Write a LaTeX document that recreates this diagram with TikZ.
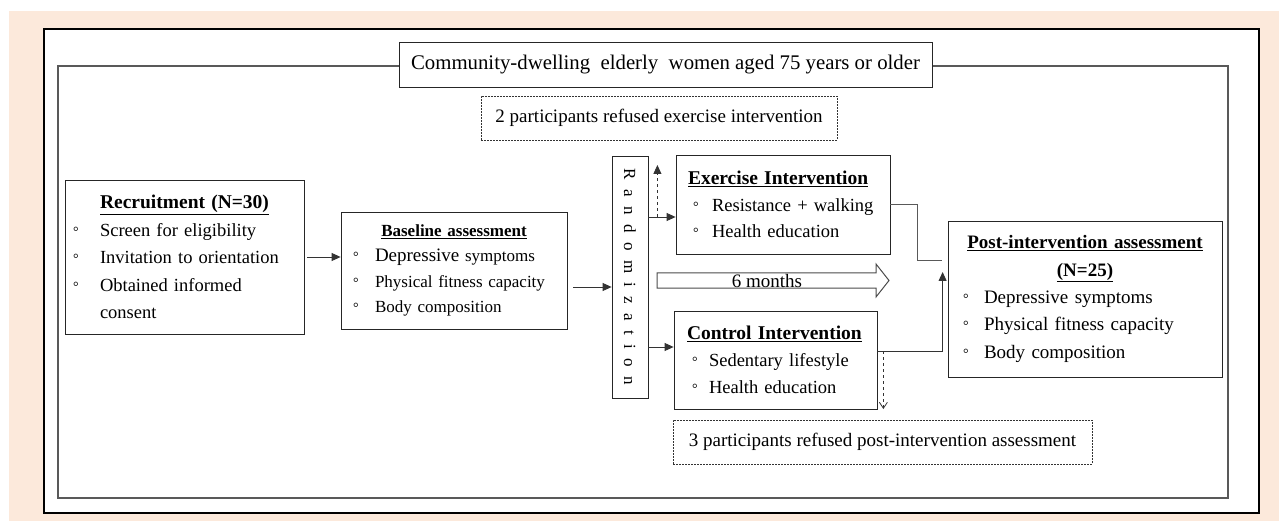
\documentclass[tikz,border=0pt]{standalone}
\usepackage{fontspec}
\setmainfont{Liberation Serif}
\usetikzlibrary{arrows.meta}
\usetikzlibrary{calc}

\definecolor{peach}{RGB}{252,233,219}
\newcommand{\bul}[1]{\makebox[#1][l]{{\fontsize{14}{14}\selectfont °}}}
\newcommand{\head}[1]{\makebox[\hsize]{\underline{\textbf{#1}}}}
\newcommand{\lhead}[1]{\hspace*{-5pt}\underline{\textbf{#1}}}

\begin{document}
\begin{tikzpicture}[x=1pt, y=-1pt,
  box/.style={draw=black!85, fill=white, line width=0.8pt, inner ysep=0pt, align=left},
  dbox/.style={draw=black!80, fill=white, dashed, dash pattern=on 2pt off 1pt,
    line width=0.6pt, minimum height=44pt, font=\fontsize{19}{20}\selectfont},
  conn/.style={draw=black!80, line width=0.8pt},
  arr/.style={-{Triangle[length=9pt,width=8pt]}},
  ]
\useasboundingbox (0,0) rectangle (1279,521);
\fill[peach] (9,11) rectangle (1279,521);
\draw[line width=1.6pt, fill=white] (44,29) rectangle (1259,513);
\draw[line width=1.2pt, black!65] (58,66) rectangle (1228,498);

%%%%%%%%%%%%%%%%%%%%%%%%%%%%%%%%%%%%%%%%

\node[box, minimum width=533pt, minimum height=45pt, font=\fontsize{20.8}{22}\selectfont] (title)
  at (665.5,64.5) {Community-dwelling\ \ elderly\ \ women aged 75 years or older};
\node[dbox, minimum width=356pt] (refuse1) at (659,118) {2 participants refused exercise intervention};
\node[dbox, minimum width=419pt] (refuse2) at (882.5,442) {3 participants refused post-intervention assessment};

\node[box, minimum width=239pt, minimum height=154pt, inner xsep=8pt, text width=223pt,
  font=\fontsize{18.5}{27.5}\selectfont] (recruit) at (184.5,257)
  {{\fontsize{19.5}{27.5}\selectfont\head{Recruitment (N=30)}}\\
   \bul{27pt}Screen for eligibility\\
   \bul{27pt}Invitation to orientation\\
   \bul{27pt}Obtained informed\\
   \hspace*{27pt}consent};

\node[box, minimum width=226pt, minimum height=117pt, inner xsep=12pt, text width=202pt,
  font=\fontsize{17}{25.5}\selectfont] (base) at (454,270.5)
  {{\fontsize{17}{25.5}\selectfont\head{Baseline assessment}}\\
   \bul{22pt}{\fontsize{19}{25.5}\selectfont Depressive} symptoms\\
   \bul{22pt}Physical fitness capacity\\
   \bul{22pt}Body composition};

\node[box, minimum width=36pt, minimum height=242pt, inner xsep=0pt] (random) at (630,277) {};
\node[rotate=-90, font=\fontsize{17}{17}\selectfont] (randtext) at (random.center)
  {\addfontfeature{LetterSpace=55}Randomization};

\node[box, minimum width=214pt, minimum height=99pt, inner xsep=17pt, text width=180pt,
  font=\fontsize{18.5}{26.5}\selectfont] (exer) at (783,204.5)
  {{\fontsize{19.5}{26.5}\selectfont\lhead{Exercise Intervention}}\\
   \bul{19pt}\mbox{Resistance + walking}\\
   \bul{19pt}Health education};

\node[box, minimum width=203pt, minimum height=98pt, inner xsep=18pt, text width=167pt,
  font=\fontsize{18.5}{27}\selectfont] (ctrl) at (775.5,360)
  {{\fontsize{19.5}{27}\selectfont\lhead{Control Intervention}}\\
   \bul{17pt}Sedentary lifestyle\\
   \bul{17pt}Health education};

\node[box, minimum width=274pt, minimum height=156pt, inner xsep=15pt, text width=244pt,
  font=\fontsize{19}{27.3}\selectfont] (post) at (1085,299)
  {\head{Post-intervention assessment}\\
   \head{(N=25)}\\
   \bul{21pt}Depressive symptoms\\
   \bul{21pt}Physical fitness capacity\\
   \bul{21pt}Body composition};

\draw[line width=1pt, black!70, fill=white]
     (657,273) -- (876,273) -- (876,264) -- (889,280.5)
  -- (876,297) -- (876,288) -- (657,288) -- cycle;
\node[font=\fontsize{19}{20}\selectfont] (months) at (767,281) {6 months};

%%%%%%%%%%%%%%%%%%%%%%%%%%%%%%%%%%%%%%%%

\draw[conn, arr] ([xshift=3pt]recruit.east) -- (recruit.east -| base.west);
\path ($(base.east)+(6,16.5)$) coordinate (bout);
\draw[conn, arr] (bout) -- (bout -| random.west);

\path (random.east |- 0,217) coordinate (rtop);
\path (random.east |- 0,347) coordinate (rbot);
\draw[conn, arr] (rtop) -- (rtop -| exer.west);
\draw[conn, arr] (rbot) -- (rbot -| ctrl.west);
\path (rtop) ++(9,-52) coordinate (drop1);
\draw[conn, dashed, arr] (rtop -| drop1) -- (drop1);

\path (post.west |- 0,260) ++(-6,0) coordinate (pin);
\path (pin) ++(1,12) coordinate (pup);
\draw[conn, black!65] (exer.east) -- ++(27,0) |- (pin);
\path (ctrl.east |- 0,351) coordinate (cout);
\draw[conn, arr] (cout) -| (pup);
\path (cout) ++(6,58) coordinate (drop2);
\draw[conn, dashed, -{Straight Barb[length=6pt,width=8pt]}] (cout -| drop2) -- (drop2);

\end{tikzpicture}
\end{document}
